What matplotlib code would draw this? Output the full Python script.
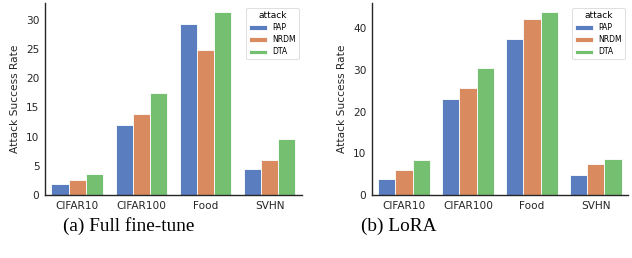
import matplotlib
matplotlib.use("Agg")
import matplotlib.pyplot as plt
import numpy as np
import colorsys
from matplotlib.colors import to_rgb

# data
datasets = ["CIFAR10", "CIFAR100", "Food", "SVHN"]
attacks = ["PAP", "NRDM", "DTA"]

full_pap = [1.9, 12.05, 29.3, 4.4]
full_nrdm = [2.6, 13.9, 24.8, 6.0]
full_dta = [3.6, 17.4, 31.3, 9.6]

lora_pap = [3.8, 22.9, 37.3, 4.7]
lora_nrdm = [5.9, 25.7, 42.1, 7.5]
lora_dta = [8.3, 30.4, 43.8, 8.75]


def desat(c, prop=0.75):
    # same as seaborn's barplot saturation
    h, l, s = colorsys.rgb_to_hls(*to_rgb(c))
    return colorsys.hls_to_rgb(h, l, s * prop)


colors = [desat(c) for c in ["#4878d0", "#ee854a", "#6acc64"]]
text_col = "#262626"


def draw(ax, series):
    x = np.arange(len(datasets))
    w = 0.8 / len(series)
    for i, (vals, name) in enumerate(zip(series, attacks)):
        ax.bar(x - 0.4 + w * (i + 0.5), vals, width=w, color=colors[i],
               edgecolor="white", linewidth=0.6, label=name)
    ax.set_xticks(x)
    ax.set_xticklabels(datasets)
    ax.set_xlim(-0.5, 3.5)
    ax.set_ylabel("Attack Success Rate", fontsize=7.7, color=text_col)
    ax.tick_params(length=0, labelsize=7.6, labelcolor=text_col, pad=4)
    for s in ["top", "right"]:
        ax.spines[s].set_visible(False)
    for s in ["left", "bottom"]:
        ax.spines[s].set_color(text_col)
        ax.spines[s].set_linewidth(1.0)
    leg = ax.legend(title="attack", loc="upper right", fontsize=5.5,
                    title_fontsize=6.5, frameon=True, handlelength=2.3,
                    handleheight=0.45, borderpad=0.4, labelspacing=0.4,
                    handletextpad=0.7, borderaxespad=0,
                    bbox_to_anchor=(1 - 3 / 257, 1 - 5 / 192))
    leg.get_frame().set_edgecolor("#d0d0d0")
    leg.get_frame().set_linewidth(0.6)


fig = plt.figure(figsize=(6.32, 2.58), dpi=100)
ax1 = fig.add_axes([0.0712, 0.244, 0.406, 0.744])
ax2 = fig.add_axes([0.5886, 0.244, 0.405, 0.744])

draw(ax1, [full_pap, full_nrdm, full_dta])
draw(ax2, [lora_pap, lora_nrdm, lora_dta])
ax1.set_yticks([0, 5, 10, 15, 20, 25, 30])
ax2.set_yticks([0, 10, 20, 30, 40])

fig.text(129 / 632, 1 - 226 / 258, "(a) Full fine-tune", ha="center", va="center",
         fontsize=13.9, family="Liberation Serif")
fig.text(399 / 632, 1 - 226 / 258, "(b) LoRA", ha="center", va="center",
         fontsize=13.9, family="Liberation Serif")

fig.savefig("out.png", dpi=100)
